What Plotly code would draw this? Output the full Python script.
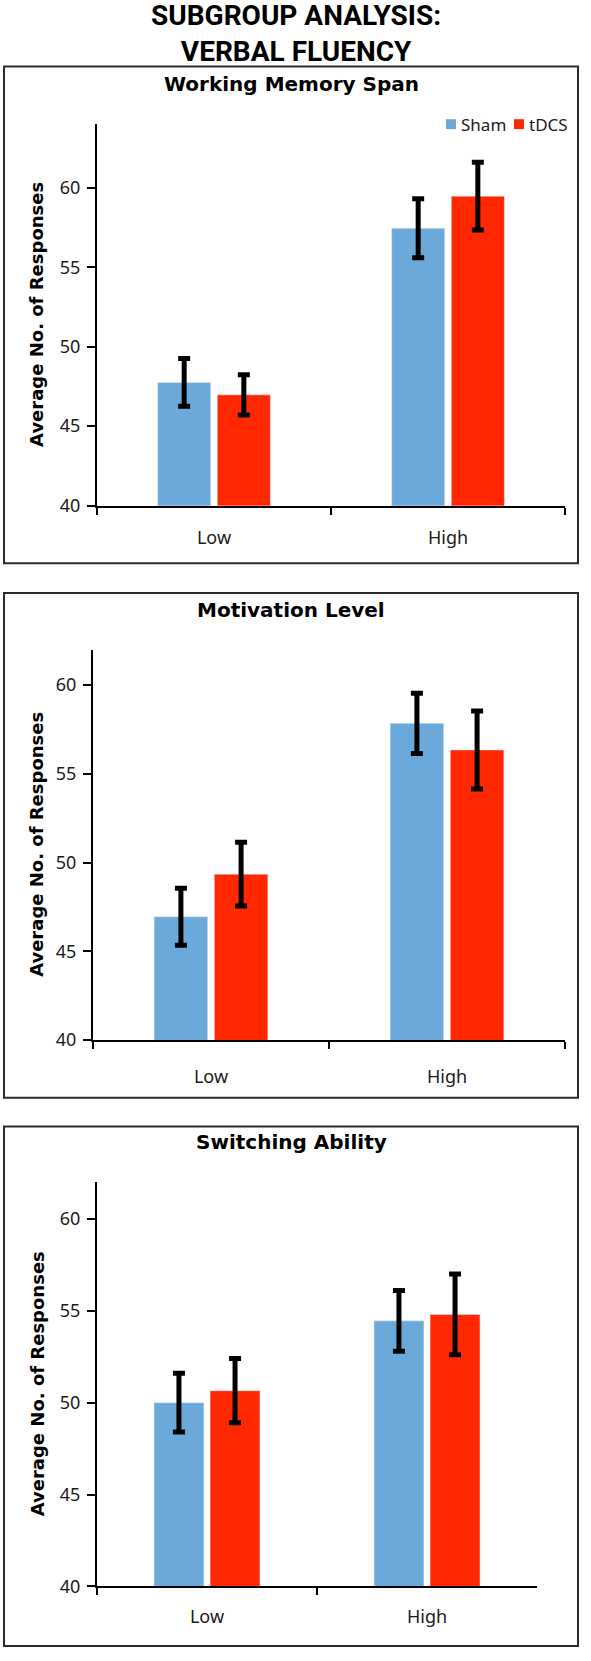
import plotly.graph_objects as go

# ---------------- data ----------------
categories = ["Low", "High"]
series_names = ["Sham", "tDCS"]

wm_sham = [47.75, 57.45]
wm_sham_err = [1.5, 1.85]
wm_tdcs = [46.97, 59.47]
wm_tdcs_err = [1.27, 2.13]

mot_sham = [46.95, 57.85]
mot_sham_err = [1.6, 1.7]
mot_tdcs = [49.35, 56.35]
mot_tdcs_err = [1.8, 2.2]

sw_sham = [50.0, 54.45]
sw_sham_err = [1.6, 1.65]
sw_tdcs = [50.65, 54.8]
sw_tdcs_err = [1.75, 2.2]

panel_titles = ["Working Memory Span", "Motivation Level", "Switching Ability"]
main_title = "SUBGROUP ANALYSIS:<br>VERBAL FLUENCY"
y_ticks = [40, 45, 50, 55, 60]

# ---------------- layout helpers ----------------
W, H = 591, 1661
SHAM_COLOR = "#6CA9DB"
TDCS_COLOR = "#FF2800"
TICK_FONT = "Noto Sans, DejaVu Sans, sans-serif"
BOLD_FONT = "DejaVu Sans, sans-serif"


def xd(a, b):
    return [a / W, b / W]


def yd(top, bottom):
    return [1 - bottom / H, 1 - top / H]


panels = [
    dict(sham=wm_sham, sham_err=wm_sham_err, tdcs=wm_tdcs, tdcs_err=wm_tdcs_err,
         xdom=xd(97, 565), ydom=yd(125, 509), yrange=[40, 64],
         frame=(4, 67, 578, 567), title_y=85, xstand=15),
    dict(sham=mot_sham, sham_err=mot_sham_err, tdcs=mot_tdcs, tdcs_err=mot_tdcs_err,
         xdom=xd(93, 565), ydom=yd(654, 1047), yrange=[40, 62],
         frame=(4, 597, 578, 1105), title_y=614, xstand=19),
    dict(sham=sw_sham, sham_err=sw_sham_err, tdcs=sw_tdcs, tdcs_err=sw_tdcs_err,
         xdom=xd(97, 537), ydom=yd(1190, 1597), yrange=[40, 62],
         frame=(4, 1134, 578, 1657), title_y=1150, xstand=13),
]

fig = go.Figure()
annotations = []
shapes = []

for i, p in enumerate(panels):
    n = "" if i == 0 else str(i + 1)
    xa, ya = "x" + n, "y" + n
    err_style = dict(type="data", color="black", thickness=5, width=6)
    fig.add_trace(go.Bar(
        x=categories, y=p["sham"], name=series_names[0], marker_color=SHAM_COLOR,
        error_y=dict(array=p["sham_err"], **err_style),
        xaxis=xa, yaxis=ya, showlegend=False,
    ))
    fig.add_trace(go.Bar(
        x=categories, y=p["tdcs"], name=series_names[1], marker_color=TDCS_COLOR,
        error_y=dict(array=p["tdcs_err"], **err_style),
        xaxis=xa, yaxis=ya, showlegend=False,
    ))
    fig.layout["xaxis" + n] = dict(
        domain=p["xdom"], anchor=ya, type="category",
        showline=True, linecolor="black", linewidth=2,
        ticks="outside", tickson="boundaries", ticklen=7, tickwidth=2, tickcolor="black",
        tickfont=dict(family=TICK_FONT, size=18, color="#1a1a1a"),
        ticklabelstandoff=p["xstand"], showgrid=False, zeroline=False, fixedrange=True,
    )
    fig.layout["yaxis" + n] = dict(
        domain=p["ydom"], anchor=xa, range=p["yrange"],
        tickmode="array", tickvals=y_ticks,
        showline=True, linecolor="black", linewidth=2,
        ticks="outside", ticklen=8, tickwidth=2, tickcolor="black",
        tickfont=dict(family=TICK_FONT, size=18, color="#1a1a1a"),
        ticklabelstandoff=3, showgrid=False, zeroline=False, fixedrange=True,
    )
    fx0, fy0, fx1, fy1 = p["frame"]
    shapes.append(dict(type="rect", xref="paper", yref="paper",
                       x0=fx0 / W, x1=fx1 / W, y0=1 - fy1 / H, y1=1 - fy0 / H,
                       line=dict(color="#2b2b2b", width=2), fillcolor="rgba(0,0,0,0)"))
    annotations.append(dict(
        text="<b>" + panel_titles[i] + "</b>", xref="paper", yref="paper",
        x=(fx0 + fx1) / 2 / W, y=1 - p["title_y"] / H, xanchor="center", yanchor="middle",
        showarrow=False, font=dict(family=BOLD_FONT, size=20, color="black"),
    ))
    ymid = (p["ydom"][0] + p["ydom"][1]) / 2
    annotations.append(dict(
        text="<b>Average No. of Responses</b>", xref="paper", yref="paper",
        x=37 / W, y=ymid, xanchor="center", yanchor="middle", textangle=-90,
        showarrow=False, font=dict(family=BOLD_FONT, size=18, color="black"),
    ))

# main title
annotations.append(dict(
    text="<b>" + main_title + "</b>", xref="paper", yref="paper",
    x=0.5, y=1 - 34 / H, xanchor="center", yanchor="middle", showarrow=False,
    font=dict(family="Liberation Sans Narrow, Roboto, DejaVu Sans, sans-serif", size=28, color="black"),
))

# legend (Excel-style, compact) in panel 1
legend_items = [(series_names[0], SHAM_COLOR, 446), (series_names[1], TDCS_COLOR, 514)]
LEG_Y = 125
for name, color, x0 in legend_items:
    shapes.append(dict(type="rect", xref="paper", yref="paper",
                       x0=x0 / W, x1=(x0 + 10) / W,
                       y0=1 - (LEG_Y + 5) / H, y1=1 - (LEG_Y - 5) / H,
                       line=dict(width=0), fillcolor=color))
    annotations.append(dict(
        text=name, xref="paper", yref="paper", x=(x0 + 13) / W, y=1 - LEG_Y / H,
        xanchor="left", yanchor="middle", showarrow=False,
        font=dict(family=TICK_FONT, size=17, color="#1a1a1a"),
    ))

fig.update_layout(
    width=W, height=H, margin=dict(l=0, r=0, t=0, b=0),
    paper_bgcolor="white", plot_bgcolor="white",
    barmode="group", bargap=0.49, bargroupgap=0.11,
    showlegend=False,
    annotations=annotations, shapes=shapes,
)

fig.write_html("out.html", config={"displayModeBar": False},
               post_script="document.body.style.margin='0';document.body.style.overflow='hidden';")
